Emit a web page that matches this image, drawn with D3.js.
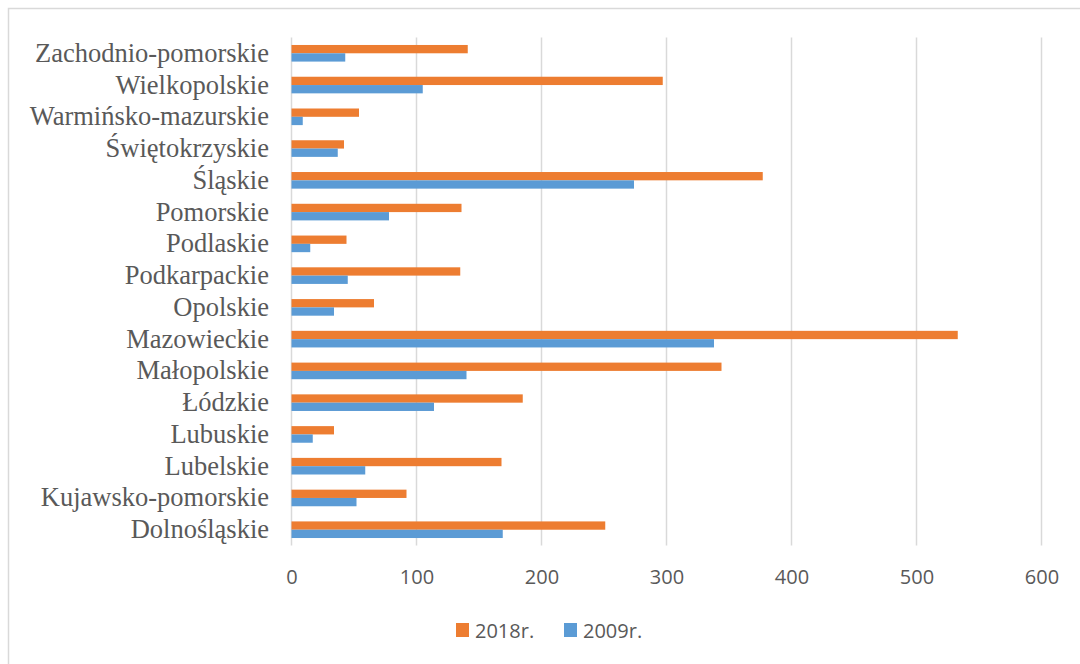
<!DOCTYPE html>
<html>
<head>
<meta charset="utf-8">
<script src="https://cdn.jsdelivr.net/npm/d3@7"></script>
<style>
  html, body { margin: 0; padding: 0; background: #fff; }
  svg { display: block; }
</style>
</head>
<body>
<svg id="chart" width="1080" height="664"></svg>
<script>
// Regions listed top to bottom as drawn
const categories = [
  "Zachodnio-pomorskie", "Wielkopolskie", "Warmińsko-mazurskie", "Świętokrzyskie",
  "Śląskie", "Pomorskie", "Podlaskie", "Podkarpackie", "Opolskie", "Mazowieckie",
  "Małopolskie", "Łódzkie", "Lubuskie", "Lubelskie", "Kujawsko-pomorskie", "Dolnośląskie"
];
const values2018 = [141, 297, 54, 42, 377, 136, 44, 135, 66, 533, 344, 185, 34, 168, 92, 251];
const values2009 = [43, 105, 9, 37, 274, 78, 15, 45, 34, 338, 140, 114, 17, 59, 52, 169];
const seriesNames = ["2018r.", "2009r."];
const seriesColors = ["#ED7D31", "#5B9BD5"];
const xTicks = [0, 100, 200, 300, 400, 500, 600];

const svg = d3.select("#chart");
const textColor = "#595959";
const gridColor = "#D9D9D9";

// Outer chart frame
svg.append("rect")
  .attr("x", 8.5).attr("y", 8.5)
  .attr("width", 1100).attr("height", 700)
  .attr("fill", "none").attr("stroke", gridColor).attr("stroke-width", 1.5);

const plot = { left: 291.5, right: 1041.5, top: 37.4, bottom: 545.6 };

const x = d3.scaleLinear().domain([0, 600]).range([plot.left, plot.right]);
const y0 = d3.scaleBand().domain(categories).range([plot.top, plot.bottom])
  .paddingInner(0.477).paddingOuter(0.2385);
const y1 = d3.scaleBand().domain(seriesNames).range([0, y0.bandwidth()]);

// Vertical gridlines
svg.append("g").selectAll("line").data(xTicks).join("line")
  .attr("x1", d => x(d)).attr("x2", d => x(d))
  .attr("y1", plot.top).attr("y2", plot.bottom)
  .attr("stroke", gridColor).attr("stroke-width", 1.5);

// Bars
const rows = categories.map((c, i) => ({ cat: c, vals: [values2018[i], values2009[i]] }));
const groups = svg.append("g").selectAll("g").data(rows).join("g")
  .attr("transform", d => `translate(0,${y0(d.cat)})`);
groups.selectAll("rect")
  .data(d => d.vals.map((v, k) => ({ name: seriesNames[k], value: v, color: seriesColors[k] })))
  .join("rect")
  .attr("x", x(0))
  .attr("y", d => y1(d.name))
  .attr("width", d => x(d.value) - x(0))
  .attr("height", y1.bandwidth())
  .attr("fill", d => d.color);

// X axis labels
const xAxis = svg.append("g")
  .attr("transform", `translate(0,${plot.bottom})`)
  .call(d3.axisBottom(x).tickValues(xTicks).tickSize(0).tickPadding(24));
xAxis.select(".domain").remove();
xAxis.selectAll("text")
  .attr("fill", textColor)
  .style("font-family", "'Open Sans', sans-serif")
  .style("font-size", "20px");

// Category labels
const yAxis = svg.append("g")
  .attr("transform", `translate(${plot.left},0)`)
  .call(d3.axisLeft(y0).tickSize(0).tickPadding(22.5));
yAxis.select(".domain").remove();
yAxis.selectAll("text")
  .attr("fill", textColor)
  .style("font-family", "'Liberation Serif', 'Times New Roman', serif")
  .style("font-size", "26.5px");

// Legend
const legendItems = [
  { name: seriesNames[0], color: seriesColors[0], x: 456 },
  { name: seriesNames[1], color: seriesColors[1], x: 564 }
];
const legend = svg.append("g").selectAll("g").data(legendItems).join("g")
  .attr("transform", d => `translate(${d.x},623)`);
legend.append("rect")
  .attr("width", 13).attr("height", 14)
  .attr("fill", d => d.color);
legend.append("text")
  .attr("x", 19).attr("y", 14.5)
  .attr("fill", textColor)
  .style("font-family", "'Open Sans', sans-serif")
  .style("font-size", "20px")
  .text(d => d.name);
</script>
</body>
</html>
